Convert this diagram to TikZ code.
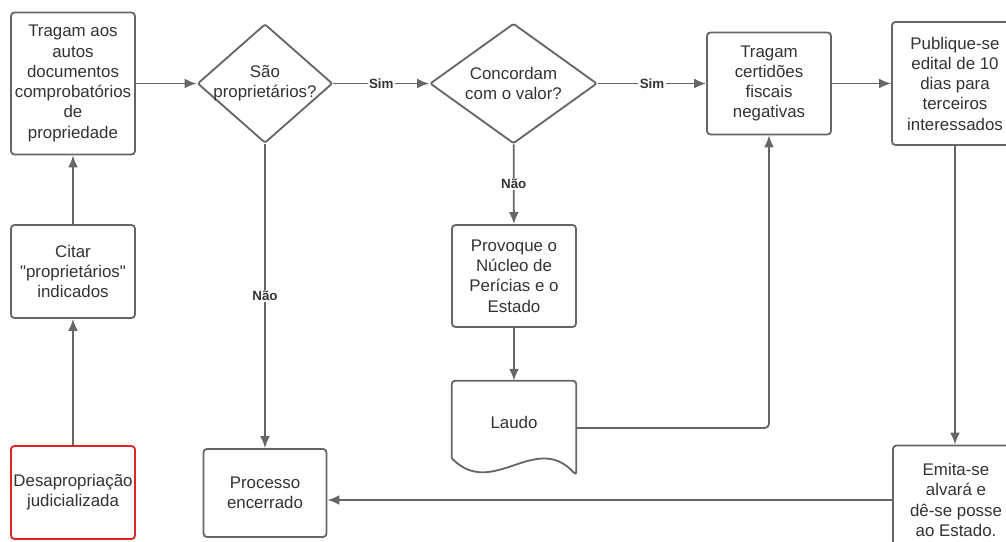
\documentclass[tikz,border=0pt]{standalone}
\usepackage{fontspec}
\setmainfont{Liberation Sans}[Ligatures=TeXOff]
\usetikzlibrary{shapes.geometric,arrows.meta}

\definecolor{linegray}{HTML}{666666}
\definecolor{txtgray}{HTML}{333333}
\definecolor{startred}{HTML}{E02424}

\tikzset{
	proc/.style={draw=linegray, line width=1.3pt, rounded corners=2.5pt, fill=white,
			align=center, text=txtgray, inner sep=1pt,
			font=\fontsize{12}{14.4}\selectfont},
	decision/.style={diamond, draw=linegray, line width=1.3pt, fill=white,
			inner sep=0pt, rounded corners=1.5pt},
	dtext/.style={align=center, text=txtgray, font=\fontsize{12}{14.4}\selectfont},
	lbl/.style={fill=white, text=txtgray, inner sep=1pt,
			font=\bfseries\fontsize{9.5}{11}\selectfont},
	conn/.style={->, draw=linegray, line width=1.3pt},
}

\begin{document}
\begin{tikzpicture}[x=0.025cm, y=-0.025cm, >={Latex[length=8.5pt,width=7pt]}]
	\path[use as bounding box, clip] (0,0) rectangle (1006,541);

	% left column
	\node[proc, minimum width=3.1cm, minimum height=3.55cm] (docs) at (73,83.5)
	{Tragam aos\\autos\\documentos\\comprobatórios\\de\\propriedade};
	\node[proc, minimum width=3.1cm, minimum height=2.325cm] (citar) at (73,271.5)
	{Citar\\"proprietários"\\indicados};
	\node[proc, draw=startred, minimum width=3.1cm, minimum height=2.325cm] (desap) at (73,492.5)
	{Desapropriação\\judicializada};

	% decisions
	\node[decision, minimum width=3.375cm, minimum height=2.975cm,
		label={[dtext]center:São\\proprietários?}] (own) at (265,83.5) {};
	\node[decision, minimum width=4.175cm, minimum height=3cm,
		label={[dtext]center:Concordam\\com o valor?}] (agree) at (513.5,83.5) {};

	\node[proc, minimum width=3.075cm, minimum height=2.2cm] (closed) at (265,493)
	{Processo\\encerrado};
	\node[proc, minimum width=3.1cm, minimum height=2.55cm] (expert) at (514,276)
	{Provoque o\\Núcleo de\\Perícias e o\\Estado};
	\node[minimum width=3.1cm, minimum height=2.35cm, text=txtgray,
		font=\fontsize{12}{14.4}\selectfont] (laudo) at (514,428) {\raisebox{8pt}{Laudo}};
	\draw[draw=linegray, line width=1.3pt, rounded corners=2.5pt]
	([shift={(0,-17)}]laudo.south west) -- (laudo.north west) -- (laudo.north east)
	-- (laudo.south east) .. controls +(-41,-45) and +(41,42) .. ([shift={(0,-17)}]laudo.south west);

	% right part
	\node[proc, minimum width=3.1cm, minimum height=2.55cm] (cert) at (769,83.5)
	{Tragam\\certidões\\fiscais\\negativas};
	\node[proc, minimum width=3.15cm, minimum height=3.075cm] (edital) at (955,83.5)
	{Publique-se\\edital de 10\\dias para\\terceiros\\interessados};
	\node[proc, minimum width=3.15cm, minimum height=2.725cm] (emita) at (956,500)
	{Emita-se\\alvará e\\dê-se posse\\ao Estado.};

	% connectors
	\draw[conn] (desap) -- (citar);
	\draw[conn] (citar) -- (docs);
	\draw[conn] (docs) -- (own);
	\draw[conn] (own) -- node[lbl] {Sim} (agree);
	\draw[conn] (own) -- node[lbl] {Não} (closed);
	\draw[conn] (agree) -- node[lbl] {Sim} (cert);
	\draw[conn] (agree) -- node[lbl] {Não} (expert);
	\draw[conn] (expert) -- (laudo.north);
	\draw[conn, rounded corners=3pt] (laudo.east) -| (cert.south);
	\draw[conn] (cert) -- (edital);
	\draw[conn] (edital) -- (emita.north -| edital);
	\draw[conn] (emita.west) -- (emita.west -| closed.east);
\end{tikzpicture}
\end{document}
